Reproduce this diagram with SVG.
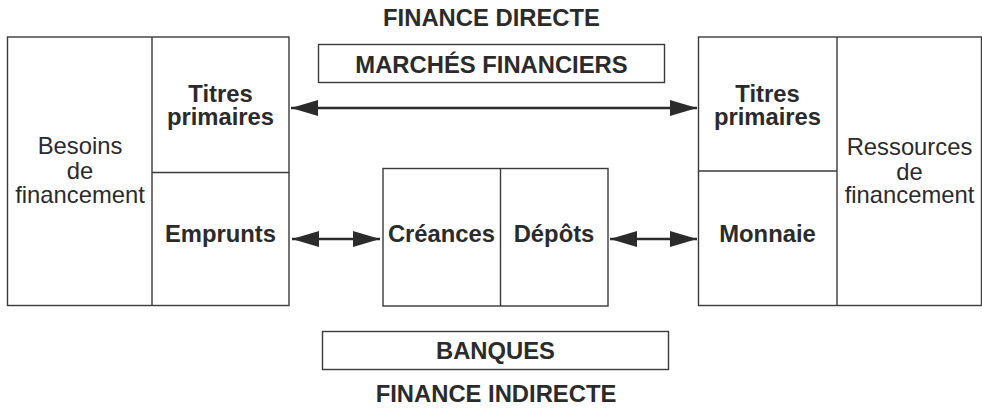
<svg xmlns="http://www.w3.org/2000/svg" width="982" height="409" viewBox="0 0 982 409">
<style>
.box{fill:none;stroke:#3a3a3a;stroke-width:1.4}
.b{font-family:"Liberation Sans",Arial,Helvetica,sans-serif;font-weight:bold;font-size:23.8px;fill:#2b2b2b;text-anchor:middle}
.r{font-family:"Liberation Sans",Arial,Helvetica,sans-serif;font-size:23.8px;fill:#2b2b2b;text-anchor:middle}
.arr{stroke:#2b2b2b;stroke-width:2.4;fill:none;marker-start:url(#ah);marker-end:url(#ah)}
</style>
<defs>
<marker id="ah" markerUnits="userSpaceOnUse" markerWidth="28" markerHeight="17" refX="27" refY="8.5" orient="auto-start-reverse">
<path d="M0,0.5 L27,8.5 L0,16.5 Z" fill="#2b2b2b"/>
</marker>
</defs>
<rect width="982" height="409" fill="#fff"/>
<g id="title-direct"><text class="b" x="491.5" y="26">FINANCE DIRECTE</text></g>
<g id="title-indirect"><text class="b" x="496" y="402">FINANCE INDIRECTE</text></g>
<g id="marches">
<rect class="box" x="318.5" y="44.5" width="346" height="38"/>
<text class="b" x="491.5" y="73">MARCHÉS FINANCIERS</text>
</g>
<g id="banques">
<rect class="box" x="322.5" y="331.5" width="346" height="38"/>
<text class="b" x="495.5" y="359">BANQUES</text>
</g>
<g id="emprunteurs">
<rect class="box" x="7.5" y="37" width="281.5" height="268.5"/>
<line class="box" x1="152" y1="37" x2="152" y2="305.5"/>
<line class="box" x1="152" y1="172.5" x2="289" y2="172.5"/>
<text class="r" x="80" y="154">Besoins</text>
<text class="r" x="80" y="179">de</text>
<text class="r" x="80" y="203">financement</text>
<text class="b" x="220.5" y="102">Titres</text>
<text class="b" x="220.5" y="125">primaires</text>
<text class="b" x="220.5" y="242">Emprunts</text>
</g>
<g id="preteurs">
<rect class="box" x="698.5" y="37" width="283" height="268.5"/>
<line class="box" x1="837" y1="37" x2="837" y2="305.5"/>
<line class="box" x1="698.5" y1="171" x2="837" y2="171"/>
<text class="r" x="909.5" y="155">Ressources</text>
<text class="r" x="909.5" y="180">de</text>
<text class="r" x="909.5" y="203">financement</text>
<text class="b" x="767.5" y="102">Titres</text>
<text class="b" x="767.5" y="125">primaires</text>
<text class="b" x="767.5" y="242">Monnaie</text>
</g>
<g id="banque-bilan">
<rect class="box" x="383" y="168.5" width="225" height="137.5"/>
<line class="box" x1="500.5" y1="168.5" x2="500.5" y2="306"/>
<text class="b" x="441.5" y="242">Créances</text>
<text class="b" x="554" y="242">Dépôts</text>
</g>
<g id="connectors">
<line class="arr" x1="291" y1="108" x2="697" y2="108"/>
<line class="arr" x1="292" y1="239" x2="380" y2="239"/>
<line class="arr" x1="610" y1="239" x2="697" y2="239"/>
</g>
</svg>
